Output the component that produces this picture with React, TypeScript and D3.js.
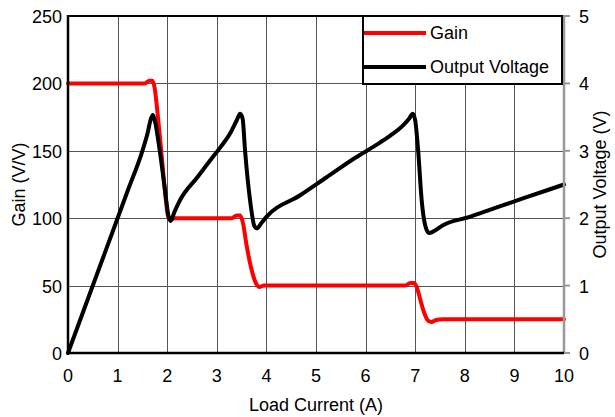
import React from "react";
import * as d3 from "d3";

const gainX = [0, 1.55, 1.64, 1.7, 1.75, 1.8, 1.88, 1.96, 2.02, 2.07, 2.15, 3.3, 3.4, 3.47, 3.53, 3.6, 3.7, 3.8, 3.86, 3.95, 6.8, 6.9, 6.97, 7.03, 7.1, 7.18, 7.26, 7.33, 7.42, 7.55, 10];
const gainY = [200, 200, 202, 202, 196, 180, 150, 118, 101, 99, 100, 100, 102, 102, 96, 80, 62, 51, 49, 50, 50, 52, 52, 49, 40, 30, 24, 23, 24.5, 25, 25];

const voltX = [0, 0.75, 1.2, 1.5, 1.6, 1.67, 1.71, 1.75, 1.85, 1.95, 2.03, 2.07, 2.15, 2.26, 2.6, 2.9, 3.06, 3.27, 3.4, 3.47, 3.52, 3.57, 3.67, 3.76, 3.81, 3.9, 4.0, 4.68, 5.2, 5.8, 6.2, 6.49, 6.76, 6.88, 6.95, 7.0, 7.06, 7.13, 7.2, 7.28, 7.36, 7.57, 8.1, 8.6, 9.2, 10];
const voltY = [0, 1.5, 2.4, 3.0, 3.25, 3.47, 3.53, 3.45, 3.0, 2.45, 2.02, 1.96, 2.1, 2.27, 2.6, 2.89, 3.04, 3.26, 3.45, 3.55, 3.48, 3.0, 2.27, 1.88, 1.85, 1.93, 2.02, 2.34, 2.6, 2.9, 3.08, 3.22, 3.38, 3.48, 3.55, 3.45, 3.0, 2.27, 1.9, 1.78, 1.8, 1.9, 2.02, 2.15, 2.3, 2.5];

const xTicks = [0, 1, 2, 3, 4, 5, 6, 7, 8, 9, 10];
const gainTicks = [0, 50, 100, 150, 200, 250];
const voltTicks = [0, 1, 2, 3, 4, 5];

const seriesNames = ["Gain", "Output Voltage"];
const seriesColors = ["#ff0000", "#000000"];

const W = 615, H = 417;
const L = 68, R = 564, T = 16, B = 353;
const FONT = "'Liberation Sans', Arial, sans-serif";

export default function App() {
  const x = d3.scaleLinear().domain([0, 10]).range([L, R]);
  const yG = d3.scaleLinear().domain([0, 250]).range([B, T]);
  const yV = d3.scaleLinear().domain([0, 5]).range([B, T]);

  const gainLine = d3.line<number>().x((d, i) => x(gainX[i])).y((d) => yG(d)).curve(d3.curveMonotoneX);
  const voltLine = d3.line<number>().x((d, i) => x(voltX[i])).y((d) => yV(d)).curve(d3.curveMonotoneX);

  return (
    <svg width={W} height={H} style={{ position: "absolute", left: 0, top: 0, background: "#fff" }} fontFamily={FONT}>
      <rect x={0} y={0} width={W} height={H} fill="#fff" />
      {/* grid */}
      {xTicks.slice(1, -1).map((t) => (
        <line key={"vx" + t} x1={Math.round(x(t)) + 0.5} x2={Math.round(x(t)) + 0.5} y1={T} y2={B} stroke="#555" strokeWidth={1} />
      ))}
      {gainTicks.slice(1, -1).map((t) => (
        <line key={"hy" + t} x1={L} x2={R} y1={Math.round(yG(t)) + 0.5} y2={Math.round(yG(t)) + 0.5} stroke="#555" strokeWidth={1} />
      ))}
      {/* series */}
      <path d={gainLine(gainY) || ""} fill="none" stroke={seriesColors[0]} strokeWidth={4} strokeLinejoin="round" strokeLinecap="round" />
      <path d={voltLine(voltY) || ""} fill="none" stroke={seriesColors[1]} strokeWidth={4} strokeLinejoin="round" strokeLinecap="round" />
      {/* frame */}
      <line x1={L} x2={R} y1={T} y2={T} stroke="#000" strokeWidth={2} />
      <line x1={R} x2={R} y1={T - 1} y2={B} stroke="#999" strokeWidth={2.5} />
      {voltTicks.map((t) => (
        <line key={"rt" + t} x1={R} x2={R + 6} y1={yV(t)} y2={yV(t)} stroke="#999" strokeWidth={2} />
      ))}
      <line x1={L} x2={L} y1={T - 1} y2={B + 1} stroke="#000" strokeWidth={2.5} />
      <line x1={L} x2={R} y1={B} y2={B} stroke="#000" strokeWidth={2.5} />
      {/* legend */}
      <rect x={363} y={16} width={199} height={68} fill="#fff" stroke="#000" strokeWidth={2} />
      <line x1={364} x2={426} y1={33} y2={33} stroke={seriesColors[0]} strokeWidth={4} />
      <line x1={364} x2={426} y1={67} y2={67} stroke={seriesColors[1]} strokeWidth={4} />
      <text x={430} y={39} fontSize={18} fill="#000">{seriesNames[0]}</text>
      <text x={430} y={73} fontSize={18} fill="#000">{seriesNames[1]}</text>
      {/* tick labels */}
      {gainTicks.map((t) => (
        <text key={"gl" + t} x={62} y={yG(t) + 7} fontSize={18} textAnchor="end" fill="#000">{t}</text>
      ))}
      {voltTicks.map((t) => (
        <text key={"vl" + t} x={579} y={yV(t) + 7} fontSize={18} textAnchor="start" fill="#000">{t}</text>
      ))}
      {xTicks.map((t) => (
        <text key={"xl" + t} x={x(t)} y={382} fontSize={18} textAnchor="middle" fill="#000">{t}</text>
      ))}
      {/* titles */}
      <text x={316} y={411} fontSize={18} textAnchor="middle" fill="#000">Load Current (A)</text>
      <text transform={`translate(25,${(T + B) / 2}) rotate(-90)`} fontSize={18} textAnchor="middle" fill="#000">Gain (V/V)</text>
      <text transform={`translate(606,${(T + B) / 2}) rotate(-90)`} fontSize={18} textAnchor="middle" fill="#000">Output Voltage (V)</text>
    </svg>
  );
}
